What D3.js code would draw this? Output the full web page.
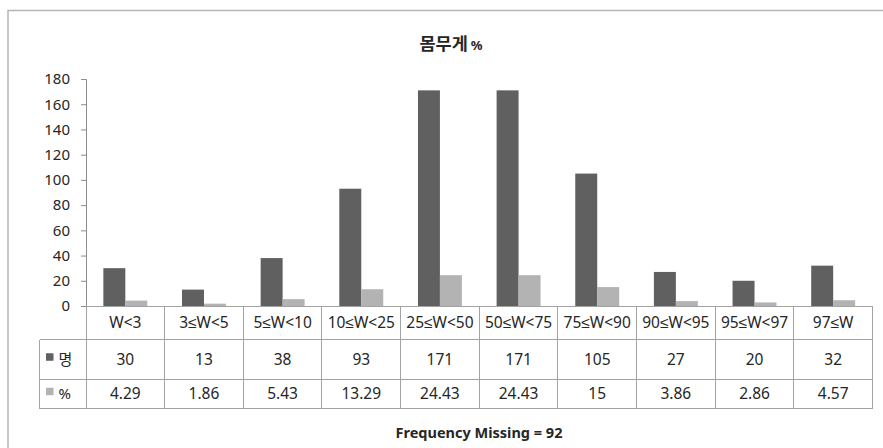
<!DOCTYPE html>
<html>
<head>
<meta charset="utf-8">
<script src="https://cdn.jsdelivr.net/npm/d3@7"></script>
<style>
  body { margin: 0; background: #fff; }
  svg { display: block; }
  text { font-family: "Noto Sans", "Liberation Sans", "DejaVu Sans", "Noto Sans CJK KR", sans-serif; fill: #262626; }
</style>
</head>
<body>
<svg id="chart" width="883" height="448"></svg>
<script>
// Weight distribution: head count and share per weight-percentile band
const categories = ["W<3", "3≤W<5", "5≤W<10", "10≤W<25", "25≤W<50", "50≤W<75", "75≤W<90", "90≤W<95", "95≤W<97", "97≤W"];
const countValues = [30, 13, 38, 93, 171, 171, 105, 27, 20, 32];
const percentValues = [4.29, 1.86, 5.43, 13.29, 24.43, 24.43, 15, 3.86, 2.86, 4.57];
const seriesNames = ["명", "%"];
const yTicks = [0, 20, 40, 60, 80, 100, 120, 140, 160, 180];
const titleMain = "몸무게";
const titleUnit = "%";
const footnote = "Frequency Missing = 92";

const seriesColors = ["#606060", "#b3b3b3"];
const gridColor = "#a3a3a3";
const bodySize = 15.5;

const svg = d3.select("#chart");

// outer chart frame (top and left edges fall inside the view)
svg.append("path")
  .attr("d", "M8,448 V10.5 H883")
  .attr("fill", "none")
  .attr("stroke", "#b5b5b5")
  .attr("stroke-width", 1.5);

const plotLeft = 86, plotRight = 872.5, plotTop = 79, plotBottom = 306;
const tableRows = [306, 339.5, 379, 408.5];
const legendLeft = 39.5;

const x = d3.scaleBand().domain(categories).range([plotLeft, plotRight]).paddingInner(0).paddingOuter(0);
const xSub = d3.scaleBand().domain(seriesNames).range([0, x.bandwidth()]).paddingInner(0).paddingOuter(0.79);
const y = d3.scaleLinear().domain([0, 180]).range([plotBottom, plotTop]);

const rows = categories.map((c, i) => ({ category: c, values: [countValues[i], percentValues[i]] }));

// bars
const groups = svg.append("g").selectAll("g").data(rows).join("g")
  .attr("transform", d => `translate(${x(d.category)},0)`);
groups.selectAll("rect")
  .data(d => d.values.map((v, k) => ({ series: seriesNames[k], value: v, k })))
  .join("rect")
  .attr("x", d => xSub(d.series))
  .attr("width", xSub.bandwidth())
  .attr("y", d => y(d.value))
  .attr("height", d => y(0) - y(d.value))
  .attr("fill", d => seriesColors[d.k]);

// y axis
const yAxis = svg.append("g")
  .attr("transform", `translate(${plotLeft},0)`)
  .call(d3.axisLeft(y).tickValues(yTicks).tickSize(5).tickPadding(11).tickSizeOuter(5));
yAxis.select(".domain").attr("stroke", "#8c8c8c");
yAxis.selectAll(".tick line").attr("stroke", "#8c8c8c");
yAxis.selectAll(".tick text")
  .attr("font-family", "\"Noto Sans\", sans-serif")
  .attr("font-size", 15)
  .attr("fill", "#262626");

// data table below the plot
const table = svg.append("g");
const lineAttrs = sel => sel.attr("stroke", gridColor).attr("stroke-width", 1).attr("shape-rendering", "crispEdges");

// horizontal rules
table.append("line").call(lineAttrs).attr("x1", plotLeft).attr("x2", plotRight).attr("y1", tableRows[0]).attr("y2", tableRows[0]);
[1, 2, 3].forEach(r => {
  table.append("line").call(lineAttrs)
    .attr("x1", legendLeft).attr("x2", plotRight)
    .attr("y1", tableRows[r]).attr("y2", tableRows[r]);
});
// vertical rules
const bounds = categories.map(c => x(c)).concat([plotRight]);
table.selectAll("line.v").data(bounds).join("line").attr("class", "v").call(lineAttrs)
  .attr("x1", d => d).attr("x2", d => d)
  .attr("y1", tableRows[0]).attr("y2", tableRows[3]);
table.append("line").call(lineAttrs)
  .attr("x1", legendLeft).attr("x2", legendLeft)
  .attr("y1", tableRows[1]).attr("y2", tableRows[3]);

const rowMid = r => (tableRows[r] + tableRows[r + 1]) / 2;

// category header row
table.selectAll("text.cat").data(categories).join("text").attr("class", "cat")
  .attr("x", d => x(d) + x.bandwidth() / 2)
  .attr("y", rowMid(0))
  .attr("dy", "0.35em")
  .attr("text-anchor", "middle")
  .attr("font-size", bodySize)
  .text(d => d);

// value rows
[countValues, percentValues].forEach((vals, k) => {
  table.selectAll(`text.val${k}`).data(vals).join("text").attr("class", `val${k}`)
    .attr("x", (d, i) => x(categories[i]) + x.bandwidth() / 2)
    .attr("y", rowMid(k + 1))
    .attr("dy", "0.35em")
    .attr("text-anchor", "middle")
    .attr("font-size", bodySize)
    .text(d => String(d));

  // legend key + series name
  table.append("rect")
    .attr("x", legendLeft + 6.5)
    .attr("y", rowMid(k + 1) - 6)
    .attr("width", 7.5).attr("height", 7.5)
    .attr("fill", seriesColors[k]);
  table.append("text")
    .attr("x", legendLeft + 19)
    .attr("y", rowMid(k + 1))
    .attr("dy", "0.35em")
    .attr("font-size", 15)
    .text(seriesNames[k]);
});

// title
const t = svg.append("text")
  .attr("x", 451).attr("y", 44)
  .attr("dy", "0.35em")
  .attr("text-anchor", "middle")
  .attr("font-family", "\"Noto Sans CJK KR\", sans-serif")
  .attr("font-weight", "bold")
  .attr("font-size", 17.5);
t.append("tspan").text(titleMain);
t.append("tspan").attr("font-size", 13).attr("dx", 3).text(titleUnit);

// footnote
svg.append("text")
  .attr("x", 479).attr("y", 433)
  .attr("dy", "0.35em")
  .attr("text-anchor", "middle")
  .attr("font-weight", "bold")
  .attr("font-size", 14.5)
  .text(footnote);
</script>
</body>
</html>
